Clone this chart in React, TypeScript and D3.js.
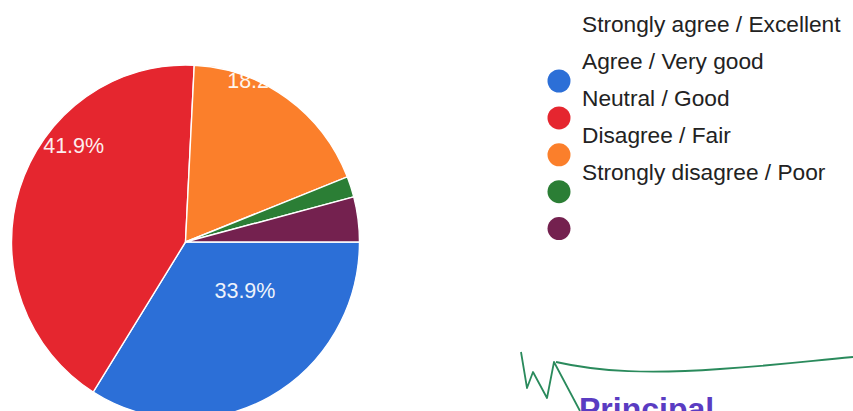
import React from "react";
import * as d3 from "d3";

const categories = [
  "Strongly agree / Excellent",
  "Agree / Very good",
  "Neutral / Good",
  "Disagree / Fair",
  "Strongly disagree / Poor",
];
const values = [33.9, 41.9, 18.2, 1.9, 4.1];
const sliceLabels = ["33.9%", "41.9%", "18.2%", "", ""];
const colors = ["#2c6fd7", "#e5262f", "#fb7f2b", "#2b7e35", "#74214f"];
// label placement: fraction along the slice's angle and fraction of radius
const labelT = [0.32, 0.65, 0.33, 0.5, 0.5];
const labelF = [0.44, 0.84, 1.0, 0.7, 0.7];

const W = 853;
const H = 411;
const cx = 185.5;
const cy = 242;
const r = 174;
const yScale = 1.017;

export default function App() {
  const pie = d3
    .pie<number>()
    .sort(null)
    .startAngle(Math.PI / 2)
    .endAngle(Math.PI / 2 + 2 * Math.PI);
  const arcs = pie(values);
  const arc = d3.arc<d3.PieArcDatum<number>>().innerRadius(0).outerRadius(r);

  const legendX = 559;
  const legendCircleY0 = 81;
  const legendTextY0 = 32;
  const gap = 36.9;

  return (
    <div style={{ position: "fixed", left: 0, top: 0, width: W, height: H, background: "#fff" }}>
      <svg width={W} height={H} style={{ display: "block", fontFamily: "'Liberation Sans', Arial, sans-serif" }}>
        <rect width={W} height={H} fill="#ffffff" />
        <g transform={`translate(${cx},${cy}) scale(1,${yScale})`}>
          {arcs.map((a, i) => (
            <path key={i} d={arc(a) || ""} fill={colors[i]} stroke="#ffffff" strokeWidth={1.4} />
          ))}
        </g>
        {arcs.map((a, i) => {
          if (!sliceLabels[i]) return null;
          const ang = a.startAngle + labelT[i] * (a.endAngle - a.startAngle);
          const x = cx + labelF[i] * r * Math.sin(ang);
          const y = cy - labelF[i] * r * yScale * Math.cos(ang);
          return (
            <text
              key={i}
              x={x}
              y={y}
              textAnchor="middle"
              dominantBaseline="central"
              fill="#ffffff"
              fontSize={21.5}
              opacity={0.92}
            >
              {sliceLabels[i]}
            </text>
          );
        })}
        {categories.map((c, i) => (
          <text key={c} x={582} y={legendTextY0 + i * gap} fontSize={22.7} fill="#222222">
            {c}
          </text>
        ))}
        {colors.map((col, i) => (
          <circle key={col} cx={legendX} cy={legendCircleY0 + i * gap} r={11.5} fill={col} />
        ))}
        <path
          d="M556,362 C600,372 650,374 720,369 S800,362 853,357"
          fill="none"
          stroke="#2a8a5c"
          strokeWidth={1.8}
        />
        <path
          d="M521,352 L527,388 L533,372 L547,398 L554,362 L580,411"
          fill="none"
          stroke="#2a8a5c"
          strokeWidth={1.8}
          strokeLinejoin="round"
        />
        <text x={579} y={420} fontSize={32} fontWeight="bold" fill="#5a3cc2">
          Principal
        </text>
      </svg>
    </div>
  );
}
